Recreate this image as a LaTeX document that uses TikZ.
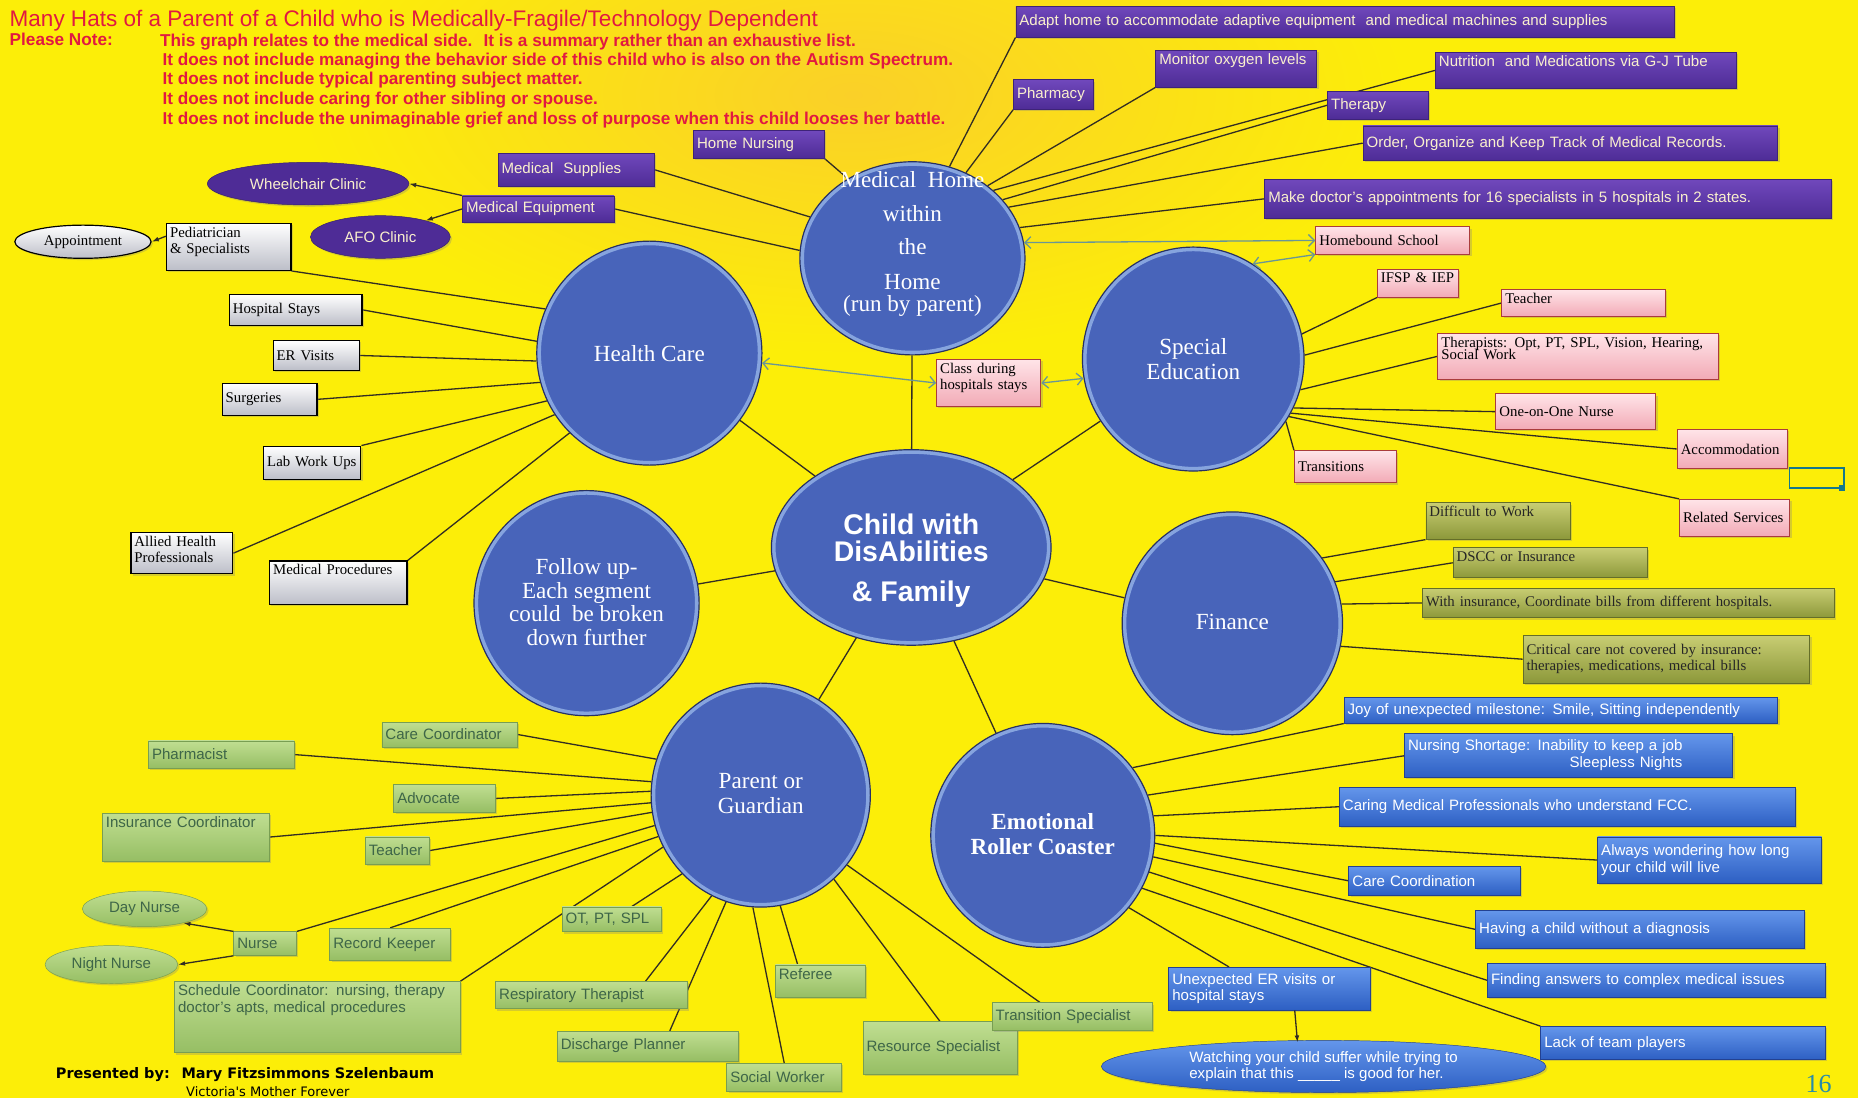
\documentclass[tikz,border=0pt]{standalone}
\usepackage{fontspec}
\setmainfont{Liberation Serif}
\setsansfont{Liberation Sans}
\newfontfamily\footfamily{DejaVu Sans}
\usetikzlibrary{shapes.geometric,shadows,arrows.meta,calc}
\pgfdeclarelayer{background}
\pgfsetlayers{background,main}

\definecolor{bgyellow}{RGB}{252,238,8}
\definecolor{glow}{RGB}{250,208,40}
\definecolor{hubblue}{RGB}{72,100,186}
\definecolor{hubline}{RGB}{38,48,100}
\definecolor{hubrim}{RGB}{150,180,232}
\definecolor{spokecol}{RGB}{50,45,35}
\definecolor{notered}{RGB}{225,25,65}
\definecolor{purpletop}{RGB}{112,72,188}
\definecolor{purplebot}{RGB}{78,44,150}
\definecolor{purpletext}{RGB}{250,240,205}
\definecolor{pinktop}{RGB}{255,228,232}
\definecolor{pinkbot}{RGB}{242,170,182}
\definecolor{pinkedge}{RGB}{170,60,60}
\definecolor{olivetop}{RGB}{200,205,115}
\definecolor{olivebot}{RGB}{140,152,58}
\definecolor{oliveedge}{RGB}{100,110,40}
\definecolor{bluetop}{RGB}{100,150,235}
\definecolor{bluebot}{RGB}{45,95,195}
\definecolor{blueedge}{RGB}{35,65,145}
\definecolor{greentop}{RGB}{192,222,145}
\definecolor{greenbot}{RGB}{150,190,100}
\definecolor{greenedge}{RGB}{120,158,82}
\definecolor{greentext}{RGB}{62,102,72}
\definecolor{graybot}{RGB}{188,190,200}
\definecolor{arrowteal}{RGB}{105,150,150}
\definecolor{selteal}{RGB}{20,120,140}
\definecolor{pagecol}{RGB}{40,140,170}

\newcommand\hatsans{\sffamily\fontsize{12.7}{14}\selectfont}
\newcommand\hatserif{\rmfamily\fontsize{12.5}{13.5}\selectfont}
\newcommand\hubfont{\rmfamily\fontsize{19.5}{21}\selectfont}
\newcommand\childfont{\sffamily\bfseries\fontsize{24}{25}\selectfont}
\newcommand\hatnote{\sffamily\bfseries\fontsize{14.5}{16}\selectfont}

\begin{document}
\begin{tikzpicture}[x=1pt,y=-1pt,
  hub/.style={ellipse, fill=hubblue, draw=hubline, line width=1pt, inner sep=0pt,
    path picture={\draw[hubrim, line width=7pt, opacity=.8]
      let \p1=(path picture bounding box.north east), \p2=(path picture bounding box.center)
      in (\p2) ellipse [x radius=\x1-\x2, y radius=\y1-\y2];}},
  hubtext/.style={text=white, align=center, font=\hubfont, inner sep=0pt},
  box/.style={rectangle, anchor=north west, inner xsep=3pt, inner ysep=3pt, align=left,
    drop shadow={opacity=.3, shadow xshift=1.5pt, shadow yshift=-1.5pt}},
  purplebox/.style={box, top color=purpletop, bottom color=purplebot, draw=purplebot!80!black, line width=.6pt, text=purpletext, font=\hatsans},
  graybox/.style={box, top color=white, bottom color=graybot, draw=black, line width=1pt, text=black, font=\hatserif},
  pinkbox/.style={box, top color=pinktop, bottom color=pinkbot, draw=pinkedge, line width=.8pt, text=black, font=\hatserif},
  olivebox/.style={box, top color=olivetop, bottom color=olivebot, draw=oliveedge, line width=.6pt, text=black!85, font=\hatserif},
  bluebox/.style={box, top color=bluetop, bottom color=bluebot, draw=blueedge, line width=.6pt, text=white, font=\hatsans},
  greenbox/.style={box, top color=greentop, bottom color=greenbot, draw=greenedge, line width=.6pt, text=greentext, font=\hatsans},
  oval/.style={ellipse, inner sep=0pt, align=center,
    drop shadow={opacity=.3, shadow xshift=1.5pt, shadow yshift=-1.5pt}},
  purpleoval/.style={oval, fill=purplebot, draw=purplebot!70!black, text=purpletext, font=\hatsans},
  grayoval/.style={oval, top color=white, bottom color=graybot, draw=black, line width=1pt, font=\hatserif},
  greenoval/.style={oval, top color=greentop, bottom color=greenbot, draw=greenedge, text=greentext, font=\hatsans},
  blueoval/.style={oval, top color=bluetop, bottom color=bluebot, draw=blueedge, text=white, font=\hatsans, align=left},
  note/.style={anchor=base west, inner sep=0pt, text=notered, font=\hatnote},
  spoke/.style={draw=spokecol, line width=1.1pt},
  pointer/.style={spoke, -{Latex[length=6pt,width=4pt]}},
  twoway/.style={draw=arrowteal, line width=1.1pt, {Straight Barb[length=5pt]}-{Straight Barb[length=5pt]}}]

\useasboundingbox (0,0) rectangle (1568,927);
\begin{pgfonlayer}{background}
\fill[bgyellow] (0,0) rectangle (1568,927);
\shade[inner color=glow, outer color=bgyellow] (720,80) ellipse [x radius=470, y radius=220];
\end{pgfonlayer}

% header
\node[note, font=\sffamily\fontsize{19}{21}\selectfont] (title) at (8,22) {Many Hats of a Parent of a Child who is Medically-Fragile/Technology Dependent};
\node[note] (please) at (8,38) {Please Note:};
\node[note] (note1) at (135,39) {This graph relates to the medical side.~ It is a summary rather than an exhaustive list.};
\node[note] (note2) at (137,55) {It does not include managing the behavior side of this child who is also on the Autism Spectrum.};
\node[note] (note3) at (137,71) {It does not include typical parenting subject matter.};
\node[note] (note4) at (137,88) {It does not include caring for other sibling or spouse.};
\node[note] (note5) at (137,105) {It does not include the unimaginable grief and loss of purpose when this child looses her battle.};

% hubs
\node[hub, minimum width=190pt, minimum height=163pt] (mhome) at (770,218) {};
\node[hubtext] (mhomelabel) at (770,206) {Medical~ Home\\[8pt]within\\[7pt]the\\[8pt]Home\\[-2pt](run by parent)};
\node[hub, minimum width=190pt, minimum height=189pt] (health) at (548,298) {};
\node[hubtext] (healthlabel) at (548,298) {Health Care};
\node[hub, minimum width=187pt, minimum height=189pt] (special) at (1007,303) {};
\node[hubtext] (speciallabel) at (1007,303) {Special\\Education};
\node[hub, minimum width=236pt, minimum height=165pt] (child) at (769,462) {};
\node[hubtext, font=\childfont] (childlabel) at (769,473) {Child with\\[-2pt]DisAbilities\\[9pt]\& Family};
\node[hub, minimum width=190pt, minimum height=190pt] (follow) at (495,509) {};
\node[hubtext, font=\rmfamily\fontsize{19.5}{20}\selectfont] (followlabel) at (495,508) {Follow up-\\Each segment\\could~ be broken\\down further};
\node[hub, minimum width=186pt, minimum height=188pt] (finance) at (1040,526) {};
\node[hubtext] (financelabel) at (1040,525) {Finance};
\node[hub, minimum width=185pt, minimum height=189pt] (parent) at (642,671) {};
\node[hubtext] (parentlabel) at (642,670) {Parent or\\Guardian};
\node[hub, minimum width=189pt, minimum height=189pt] (emotion) at (880,705) {};
\node[hubtext, font=\rmfamily\bfseries\fontsize{19.5}{21}\selectfont] (emotionlabel) at (880,704) {Emotional\\Roller Coaster};

% medical home
\node[purplebox, text width=550pt, minimum height=26pt] (adapt) at (857,5) {Adapt home to accommodate adaptive equipment~ and medical machines and supplies};
\node[purplebox, text width=61pt, minimum height=25pt] (pharm) at (855,67) {Pharmacy};
\node[purplebox, text width=130pt, text depth=16pt] (oxy) at (975,42) {Monitor oxygen levels};
\node[purplebox, text width=248pt, text depth=15pt] (nutri) at (1211,44) {Nutrition~ and Medications via G-J Tube};
\node[purplebox, text width=79pt, minimum height=23pt] (ther) at (1120,77) {Therapy};
\node[purplebox, text width=344pt, minimum height=29pt] (order) at (1150,106) {Order, Organize and Keep Track of Medical Records.};
\node[purplebox, text width=472pt, minimum height=33pt] (appts) at (1067,151) {Make doctor's appointments for 16 specialists in 5 hospitals in 2 states.};
\node[purplebox, text width=104pt, minimum height=23pt] (hnurse) at (585,110) {Home Nursing};
\node[purplebox, text width=126pt, minimum height=28pt] (msup) at (420,129) {Medical~ Supplies};
\node[purplebox, text width=122pt, minimum height=22pt] (mequip) at (390,165) {Medical Equipment};
\node[purpleoval, minimum width=170pt, minimum height=36pt] (wheel) at (260,155) {Wheelchair Clinic};
\node[purpleoval, minimum width=118pt, minimum height=36pt] (afo) at (321,200) {AFO Clinic};

% health care
\node[graybox, text width=99pt, text depth=25pt] (peds) at (140,188) {Pediatrician\\\& Specialists};
\node[grayoval, minimum width=115pt, minimum height=28pt] (appt) at (70,204) {Appointment};
\node[graybox, text width=106pt, minimum height=26pt] (hosp) at (193,248) {Hospital Stays};
\node[graybox, text width=67pt, minimum height=25pt] (ervisit) at (230,287) {ER Visits};
\node[graybox, text width=74pt, minimum height=27pt] (surg) at (187,323) {Surgeries};
\node[graybox, text width=76pt, minimum height=28pt] (lab) at (222,376) {Lab Work Ups};
\node[graybox, text width=80pt, text depth=20pt] (allied) at (110,449) {Allied Health\\Professionals};
\node[graybox, text width=110pt, text depth=22pt] (mproc) at (227,473) {Medical Procedures};

% special education
\node[pinkbox, text width=124pt, minimum height=23pt] (homeb) at (1110,191) {Homebound School};
\node[pinkbox, text width=62pt, text depth=9pt] (ifsp) at (1162,227) {IFSP \& IEP};
\node[pinkbox, text width=132pt, text depth=8pt] (pteach) at (1267,244) {Teacher};
\node[pinkbox, text width=231pt, text depth=24pt] (thera) at (1213,281) {Therapists: Opt, PT, SPL, Vision, Hearing,\\[-3pt]Social Work};
\node[pinkbox, text width=129pt, minimum height=30pt] (oneone) at (1262,332) {One-on-One Nurse};
\node[pinkbox, text width=87pt, minimum height=33pt] (accom) at (1415,362) {Accommodation};
\node[pinkbox, text width=87pt, minimum height=31pt] (related) at (1417,421) {Related Services};
\node[pinkbox, text width=80pt, minimum height=27pt] (trans) at (1092,380) {Transitions};
\node[pinkbox, text width=82pt, text depth=25pt] (classd) at (790,303) {Class during\\hospitals stays};

% finance
\node[olivebox, text width=116pt, text depth=16pt] (diffw) at (1203,424) {Difficult to Work};
\node[olivebox, text width=158pt, text depth=11pt] (dscc) at (1226,462) {DSCC or Insurance};
\node[olivebox, text width=342pt, minimum height=25pt] (withins) at (1200,496) {With insurance, Coordinate bills from different hospitals.};
\node[olivebox, text width=236pt, minimum height=40pt] (crit) at (1285,536) {Critical care not covered by insurance:\\therapies, medications, medical bills};

% emotional roller coaster
\node[bluebox, text width=360pt, minimum height=22pt] (joy) at (1134,588) {Joy of unexpected milestone: Smile, Sitting independently};
\node[bluebox, text width=271pt, minimum height=37pt] (nursh) at (1185,619) {\begin{tabular}{@{}r@{}}Nursing Shortage: Inability to keep a job\\Sleepless Nights\end{tabular}};
\node[bluebox, text width=379pt, minimum height=33pt] (caring) at (1130,664) {Caring Medical Professionals who understand FCC.};
\node[bluebox, text width=183pt, minimum height=39pt] (always) at (1348,706) {Always wondering how long\\your child will live};
\node[bluebox, text width=139pt, minimum height=24pt] (carec) at (1138,731) {Care Coordination};
\node[bluebox, text width=271pt, minimum height=32pt] (having) at (1245,768) {Having a child without a diagnosis};
\node[bluebox, text width=279pt, minimum height=28pt] (finding) at (1255,813) {Finding answers to complex medical issues};
\node[bluebox, text width=234pt, minimum height=28pt] (lack) at (1300,866) {Lack of team players};
\node[bluebox, text width=164pt, minimum height=36pt] (unexp) at (986,816) {Unexpected ER visits or\\hospital stays};
\node[blueoval, minimum width=375pt, minimum height=44pt] (watch) at (1117,900) {Watching your child suffer while trying to\\explain that this \_\_\_\_\_ is good for her.};

% parent or guardian
\node[greenbox, text width=108pt, minimum height=21pt] (ccoord) at (322,609) {Care Coordinator};
\node[greenbox, text width=117pt, minimum height=23pt] (pharmst) at (125,625) {Pharmacist};
\node[greenbox, text width=80pt, minimum height=23pt] (advoc) at (332,662) {Advocate};
\node[greenbox, text width=135pt, text depth=25pt] (insc) at (86,686) {Insurance Coordinator};
\node[greenbox, text width=48pt, minimum height=23pt] (gteach) at (308,706) {Teacher};
\node[greenbox, text width=47pt, minimum height=20pt] (nurse) at (197,786) {Nurse};
\node[greenoval, minimum width=105pt, minimum height=30pt] (day) at (122,767) {Day Nurse};
\node[greenoval, minimum width=112pt, minimum height=32pt] (night) at (94,814) {Night Nurse};
\node[greenbox, text width=96pt, minimum height=27pt] (recordk) at (278,783) {Record Keeper};
\node[greenbox, text width=235pt, text depth=45pt] (sched) at (147,828) {Schedule Coordinator: nursing, therapy\\doctor's apts, medical procedures};
\node[greenbox, text width=78pt, minimum height=21pt] (otpt) at (474,765) {OT, PT, SPL};
\node[greenbox, text width=156pt, minimum height=23pt] (resp) at (418,828) {Respiratory Therapist};
\node[greenbox, text width=147pt, minimum height=25pt] (disch) at (470,870) {Discharge Planner};
\node[greenbox, text width=91pt, minimum height=24pt] (socw) at (613,897) {Social Worker};
\node[greenbox, text width=70pt, text depth=12pt] (refer) at (654,814) {Referee};
\node[greenbox, text width=124pt, minimum height=44pt] (resour) at (728,862) {Resource Specialist};
\node[greenbox, text width=129pt, minimum height=23pt] (transsp) at (837,846) {Transition Specialist};

% footer
\node[anchor=base west, inner sep=0pt, font=\footfamily\bfseries\fontsize{12.2}{14}\selectfont] (presenter) at (47,910) {Presented by:~ Mary Fitzsimmons Szelenbaum};
\node[anchor=base, inner sep=0pt, font=\footfamily\fontsize{11}{12}\selectfont] (victoria) at (226,925) {Victoria's Mother Forever};
\node[anchor=base east, inner sep=0pt, text=pagecol, font=\rmfamily\fontsize{22}{24}\selectfont] (pagenum) at (1546,922) {16};
\draw[selteal, line width=1.3pt] (1510,395) rectangle (1556,412);
\fill[selteal] (1552,409) rectangle (1557,414);

\begin{pgfonlayer}{background}
\draw[spoke] (child) -- (mhome);
\draw[spoke] (child) -- (health);
\draw[spoke] (child) -- (special);
\draw[spoke] (child) -- (follow);
\draw[spoke] (child) -- (finance);
\draw[spoke] (child) -- (parent);
\draw[spoke] (child) -- (emotion);
% medical home
\draw[spoke] (adapt.south west) -- (mhome.68);
\draw[spoke] (pharm.south west) -- (mhome.58);
\draw[spoke] (oxy.south west) -- (mhome.44);
\draw[spoke] (nutri.west) -- (mhome.40);
\draw[spoke] (ther.west) -- (mhome.33);
\draw[spoke] (order.west) -- (mhome.28);
\draw[spoke] (appts.west) -- (mhome.16);
\draw[spoke] (hnurse.south east) -- (mhome.129);
\draw[spoke] (msup.east) -- (mhome.158);
\draw[spoke] (mequip.east) -- (mhome.176);
% health care
\draw[spoke] (peds.south east) -- (health.157);
\draw[spoke] (hosp.east) -- (health.174);
\draw[spoke] (ervisit.east) -- (health.184);
\draw[spoke] (surg.east) -- (health.195);
\draw[spoke] (lab.north east) -- (health.205);
\draw[spoke] (allied.east) -- (health.213);
\draw[spoke] (mproc.north east) -- (health.225);
% special education
\draw[spoke] (ifsp.south west) -- (special.13);
\draw[spoke] (pteach.west) -- (special.2);
\draw[spoke] (thera.west) -- (special.-16);
\draw[spoke] (oneone.west) -- (special.-26);
\draw[spoke] (accom.west) -- (special.-29);
\draw[spoke] (related.north west) -- (special.-31);
\draw[spoke] (trans.north west) -- (special.-34);
% finance
\draw[spoke] (diffw.south west) -- (finance.36);
\draw[spoke] (dscc.west) -- (finance.22);
\draw[spoke] (withins.west) -- (finance.10);
\draw[spoke] (crit.west) -- (finance.-12);
% emotional roller coaster
\draw[spoke] (joy.south west) -- (emotion.37);
\draw[spoke] (nursh.west) -- (emotion.21);
\draw[spoke] (caring.west) -- (emotion.10);
\draw[spoke] (always.west) -- (emotion.0);
\draw[spoke] (carec.west) -- (emotion.-4);
\draw[spoke] (having.west) -- (emotion.-11);
\draw[spoke] (finding.west) -- (emotion.-19);
\draw[spoke] (lack.north west) -- (emotion.-28);
\draw[spoke] ($(unexp.north west)!.3!(unexp.north east)$) -- (emotion.-40);
% parent or guardian
\draw[spoke] (ccoord.east) -- (parent.161);
\draw[spoke] (pharmst.east) -- (parent.173);
\draw[spoke] (advoc.east) -- (parent.178);
\draw[spoke] (insc.east) -- (parent.184);
\draw[spoke] (gteach.east) -- (parent.189);
\draw[spoke] (nurse.north east) -- (parent.196);
\draw[spoke] (recordk.north) -- (parent.202);
\draw[spoke] (sched.north east) -- (parent.208);
\draw[spoke] ($(otpt.north west)!.7!(otpt.north east)$) -- (parent.225);
\draw[spoke] ($(resp.north west)!.78!(resp.north east)$) -- (parent.244);
\draw[spoke] ($(disch.north west)!.62!(disch.north east)$) -- (parent.252);
\draw[spoke] (socw.north) -- (parent.266);
\draw[spoke] ($(refer.north west)!.25!(refer.north east)$) -- (parent.280);
\draw[spoke] (resour.north) -- (parent.311);
\draw[spoke] ($(transsp.north west)!.3!(transsp.north east)$) -- (parent.321);
\end{pgfonlayer}

% arrows
\draw[pointer] (mequip.north west) -- (wheel.east);
\draw[pointer] (mequip.west) -- (afo.20);
\draw[pointer] ($(peds.west)+(0,-9)$) -- (appt.east);
\draw[pointer] (nurse.north west) -- (day.-20);
\draw[pointer] (nurse.south west) -- (night.east);
\draw[pointer] ($(unexp.south)!.25!(unexp.south east)$) -- ($(watch.north)+(-22,2)$);
\draw[twoway] (mhome.8) -- (homeb.west);
\draw[twoway] (special.58) -- (homeb.south west);
\draw[twoway] (health.-5) -- (classd.west);
\draw[twoway] (classd.east) -- (special.190);
\end{tikzpicture}
\end{document}
